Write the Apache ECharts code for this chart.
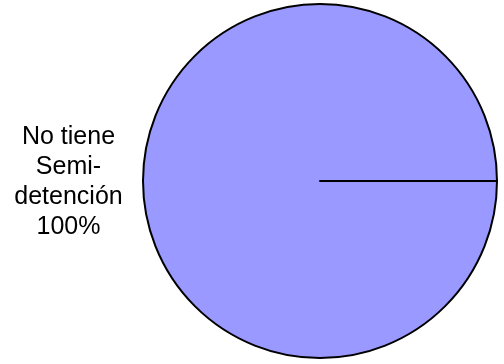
<!DOCTYPE html>
<html>
<head>
<meta charset="utf-8">
<script src="https://cdn.jsdelivr.net/npm/echarts@6/dist/echarts.min.js"></script>
<style>
  html, body { margin: 0; padding: 0; background: #fff; }
  #chart { width: 504px; height: 364px; }
</style>
</head>
<body>
<div id="chart"></div>
<script>
var categories = ['No tiene Semi-detención'];
var values = [100];
var labelLines = ['No tiene', 'Semi-', 'detención'];

var chart = echarts.init(document.getElementById('chart'), null, { renderer: 'canvas' });

var pieData = categories.map(function (name, i) {
  return { name: name, value: values[i] };
});
// Excel draws a radius at the start of a single-slice pie; a zero-angle
// slice gives the same edge line.
pieData.push({
  name: '',
  value: 0,
  label: { show: false },
  labelLine: { show: false },
  itemStyle: { color: 'transparent' }
});

chart.setOption({
  animation: false,
  series: [{
    type: 'pie',
    center: [320, 181],
    radius: 177,
    startAngle: 0,
    clockwise: true,
    avoidLabelOverlap: false,
    silent: true,
    itemStyle: {
      color: '#9999FF',
      borderColor: '#000',
      borderWidth: 2
    },
    label: {
      show: true,
      position: 'outside',
      padding: [3, 0, 0, 0],
      formatter: function (p) {
        return labelLines.map(function (l) { return '{a|' + l + '}'; }).join('\n') +
          '\n{a|' + Math.round(p.percent) + '%}';
      },
      rich: {
        a: {
          fontFamily: 'Liberation Sans, Arial, sans-serif',
          fontSize: 25,
          lineHeight: 30,
          color: '#000',
          width: 115,
          align: 'center'
        }
      }
    },
    labelLine: { show: false, length: 12, length2: 0 },
    data: pieData
  }]
});
</script>
</body>
</html>
